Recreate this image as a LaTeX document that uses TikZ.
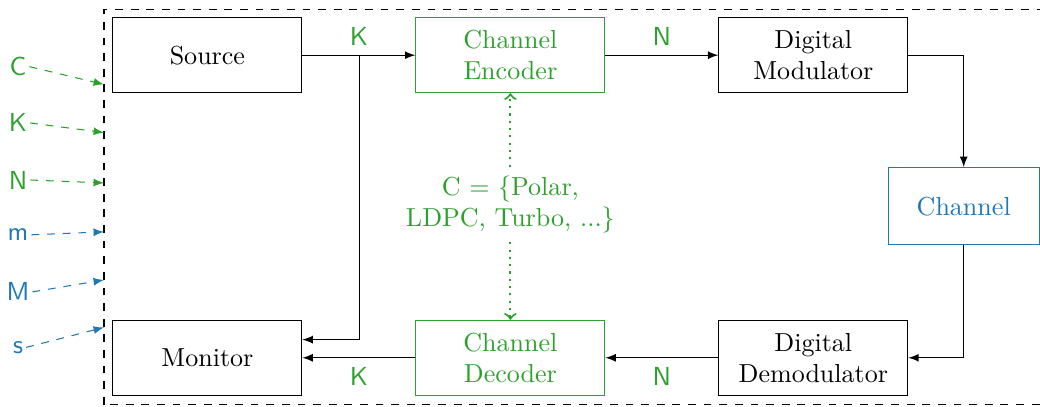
\documentclass[tikz,border=0pt]{standalone}
\usepackage{xcolor}
\definecolor{codegreen}{RGB}{44,160,44}
\definecolor{codeblue}{RGB}{31,119,180}
\tikzset{
  block/.style={draw, minimum width=2.55cm, minimum height=1.01cm, align=center},
  greenblock/.style={block, draw=codegreen, text=codegreen},
  blueblock/.style={block, draw=codeblue, text=codeblue, minimum width=2.04cm, minimum height=1.04cm},
  param/.style={inner sep=1pt},
}
\begin{document}
\begin{tikzpicture}[>=latex, scale=1]
    \useasboundingbox (0,0) rectangle (14.04,5.49);
    % 1. Khung hệ thống
    \draw[dashed] (1.404,0.027) rectangle (14.3,5.36);

    % 2. Các khối
    \node[block] (src) at (2.80,4.745) {Source};
    \node[greenblock] (enc) at (6.89,4.745) {Channel\\Encoder};
    \node[block] (mod) at (10.98,4.745) {Digital\\Modulator};
    \node[blueblock, fill=white] (chn) at (13.01,2.707) {Channel};
    \node[block] (dem) at (10.98,0.66) {Digital\\Demodulator};
    \node[greenblock] (dec) at (6.89,0.66) {Channel\\Decoder};
    \node[block] (mon) at (2.80,0.66) {Monitor};
    \node[text=codegreen, align=center] (codes) at (6.89,2.73) {C = \{Polar,\\LDPC, Turbo, ...\}};

    % 3. Các mũi tên
    \draw[->] (src) -- node[above, text=codegreen] {$\mathsf{K}$} (enc);
    \draw[->] (enc) -- node[above, text=codegreen] {$\mathsf{N}$} (mod);
    \coordinate (br) at (4.85,4.745);
    \draw[->] (br) |- (mon.east |- 0,0.905);
    \draw[->] (mod.east) -| (chn.north);
    \draw[->] (chn.south) |- (dem.east);
    \draw[->] (dem) -- node[below, text=codegreen] {$\mathsf{N}$} (dec);
    \draw[->] (dec) -- node[below, text=codegreen] {$\mathsf{K}$} (mon);
    \draw[-to, dotted, thick, codegreen] (codes) -- (enc);
    \draw[-to, dotted, thick, codegreen] (codes) -- (dec);

    % 4. Các tham số
    \node[param, text=codegreen] (pC) at (0.243,4.59) {$\mathsf{C}$};
    \node[param, text=codegreen] (pK) at (0.243,3.83) {$\mathsf{K}$};
    \node[param, text=codegreen] (pN) at (0.243,3.06) {$\mathsf{N}$};
    \node[param, text=codeblue] (pm) at (0.243,2.32) {$\mathsf{m}$};
    \node[param, text=codeblue] (pM) at (0.243,1.55) {$\mathsf{M}$};
    \node[param, text=codeblue] (ps) at (0.243,0.80) {$\mathsf{s}$};
    \coordinate (tC) at (1.404,4.35);
    \coordinate (tK) at (1.404,3.70);
    \coordinate (tN) at (1.404,3.02);
    \coordinate (tm) at (1.404,2.36);
    \coordinate (tM) at (1.404,1.71);
    \coordinate (ts) at (1.404,1.07);
    \draw[->, dashed, codegreen] (pC.east) -- (tC);
    \draw[->, dashed, codegreen] (pK.east) -- (tK);
    \draw[->, dashed, codegreen] (pN.east) -- (tN);
    \draw[->, dashed, codeblue] (pm.east) -- (tm);
    \draw[->, dashed, codeblue] (pM.east) -- (tM);
    \draw[->, dashed, codeblue] (ps.east) -- (ts);
\end{tikzpicture}
\end{document}
